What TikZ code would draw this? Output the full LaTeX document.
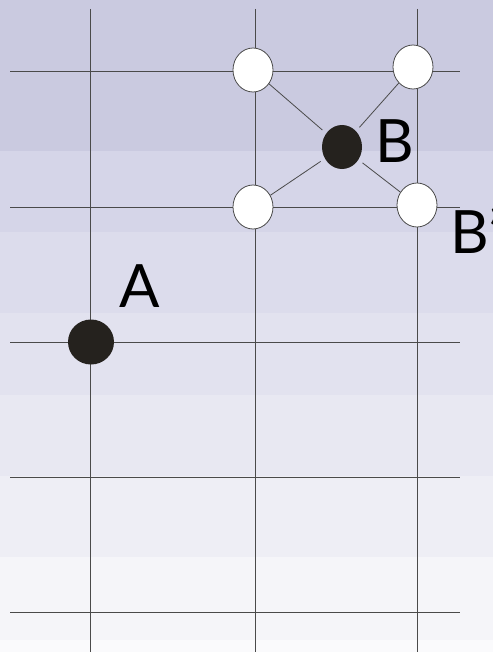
\documentclass[tikz,border=0pt]{standalone}
\usepackage{fontspec}
\setmainfont{Lato}
\usepackage{tikz}
\usetikzlibrary{shapes.geometric}
\definecolor{trait}{HTML}{4A4A4A}
\definecolor{noir}{HTML}{25221E}
\tikzset{
  ligne/.style={draw=trait, line width=1bp},
  plein/.style={ellipse, fill=noir, minimum width=40bp, minimum height=44bp, inner sep=0},
  vide/.style={ellipse, draw=trait, fill=white, line width=0.8bp,
    minimum width=40bp, minimum height=44bp, inner sep=0},
  lien/.style={draw=trait, line width=0.8bp, shorten <=5bp},
  etiquette/.style={font=\fontsize{60}{60}\selectfont, anchor=base west,
    inner sep=0, text=black}
}

\begin{document}
\begin{tikzpicture}[x=1bp, y=-1bp]
  \useasboundingbox (0,0) rectangle (493,652);
  \clip (0,0) rectangle (493,652);
  % fond en bandes
  \foreach \haut/\bas/\teinte in {0/151/CACAE0, 151/232/D5D5E8, 232/313/DCDCEC,
      313/395/E2E2EF, 395/476/E8E8F2, 476/557/EEEEF5, 557/640/F5F5F9, 640/652/FAFAFC} {
    \definecolor{bande}{HTML}{\teinte}
    \fill[bande] (0,\haut) rectangle (493,\bas);
  }
  % grille
  \foreach \x in {90,255,417} \draw[ligne] (\x,9) -- (\x,652);
  \foreach \y in {72,207,342,477,612} \draw[ligne] (10,\y) -- (460,\y);

  \node[vide] (hg) at (253,70) {};
  \node[vide] (hd) at (413,67) {};
  \node[vide] (bg) at (253,207) {};
  \node[vide] (bd) at (417,205) {};
  \node[plein] (b) at (342,147) {};
  \node[plein, minimum width=46bp, minimum height=45bp] (a) at (91,342) {};

  \draw[lien] (b) -- (hg);
  \draw[lien] (b) -- (hd);
  \draw[lien] (b) -- (bg);
  \draw[lien] (b) -- (bd);

  \node[etiquette] (la) at (119,307) {A};
  \node[etiquette] (lb) at (375,162) {B};
  \node[etiquette] (lbp) at (450,253) {B'};
\end{tikzpicture}
\end{document}
